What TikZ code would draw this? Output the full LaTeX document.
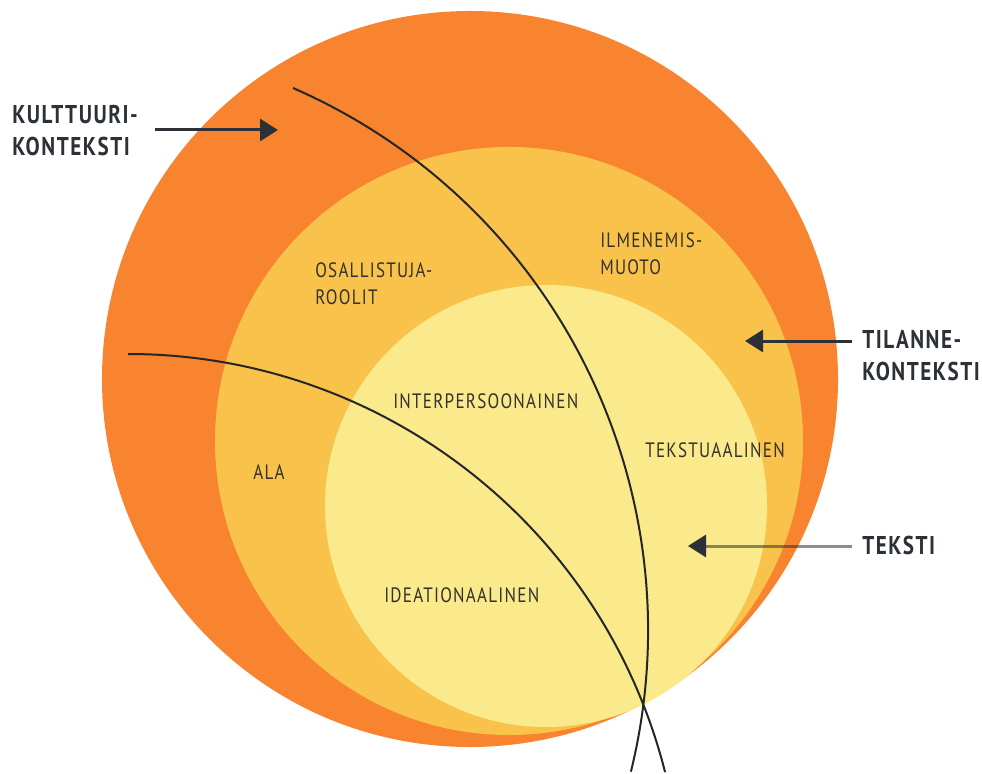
\documentclass[tikz,border=0pt]{standalone}
\usepackage{fontspec}
\setmainfont{PT Sans}[FakeStretch=0.82, LetterSpace=6]
\usepackage{tikz}
\usetikzlibrary{arrows.meta, positioning, calc}

\definecolor{kulttuuri}{HTML}{F8842F}
\definecolor{tilanne}{HTML}{F9C34B}
\definecolor{teksti}{HTML}{FAEA8C}
\definecolor{otsikko}{HTML}{2C3037}
\definecolor{alue}{HTML}{35312D}

\begin{document}
\begin{tikzpicture}[x=0.25mm, y=0.25mm]
        \tikzstyle{disc}=[circle, inner sep=0, outer sep=0, draw=none];
        \tikzstyle{heading}=[anchor=west, inner sep=0, align=left, text=otsikko, font=\bfseries\fontsize{18.3}{22.8}\selectfont];
        \tikzstyle{region}=[anchor=west, inner sep=0, align=left, text=alue, font=\fontsize{14.8}{19.2}\selectfont];
        \tikzstyle{pointer}=[draw=otsikko, line width=0.75mm, -{Triangle[length=4.5mm, width=5.5mm]}];
        \tikzstyle{boundary}=[draw=black!85, line width=0.5mm];

        \useasboundingbox (0, 0) rectangle (982, -774);

        % the three nested contexts
        \node[disc, fill=kulttuuri, minimum size=184mm] (outer) at (470, -379) {};
        \node[disc, fill=tilanne, minimum size=147mm] (middle) at (509, -441) {};
        \node[disc, fill=teksti, minimum size=110.5mm] (inner) at (546, -506) {};

        % metafunction boundaries
        \coordinate (b1) at (293, -88);
        \coordinate (b2) at (128, -354);
        \draw[boundary] (b1) arc[start angle=66.4, end angle=-13.8, radius=592];
        \draw[boundary] (b2) arc[start angle=90, end angle=14.2, radius=554];

        % labels outside
        \node[heading] (kulttuurilabel) at (12, -131) {KULTTUURI-\\KONTEKSTI};
        \node[heading] (tilannelabel) at (862, -356) {TILANNE-\\KONTEKSTI};
        \node[heading] (tekstilabel) at (862, -545) {TEKSTI};

        % labels inside
        \node[region] (osallistuja) at (315, -284) {OSALLISTUJA-\\ROOLIT};
        \node[region] (ilmenemis) at (600, -254) {ILMENEMIS-\\MUOTO};
        \node[region] (interpersoonainen) at (393, -401) {INTERPERSOONAINEN};
        \node[region] (tekstuaalinen) at (645, -450) {TEKSTUAALINEN};
        \node[region] (ala) at (253, -472) {ALA};
        \node[region] (ideationaalinen) at (384, -595) {IDEATIONAALINEN};

        % arrows
        \coordinate (kulttuuritip) at (278, -130);
        \coordinate (tilannetip) at (745, -341);
        \coordinate (tekstitip) at (688, -546);
        \coordinate (kulttuuritail) at (155, -130);
        \coordinate (tilannetail) at (852, -341);
        \coordinate (tekstitail) at (852, -546);
        \draw[pointer] (kulttuuritail) -- (kulttuuritip);
        \draw[pointer] (tilannetail) -- (tilannetip);
        \draw[otsikko, line width=0.75mm, draw opacity=0.55] (tekstitail) -- ($(tekstitip)+(15, 0)$);
        \draw[pointer, shorten <=40mm] (tekstitail) -- (tekstitip);
    \end{tikzpicture}
\end{document}
